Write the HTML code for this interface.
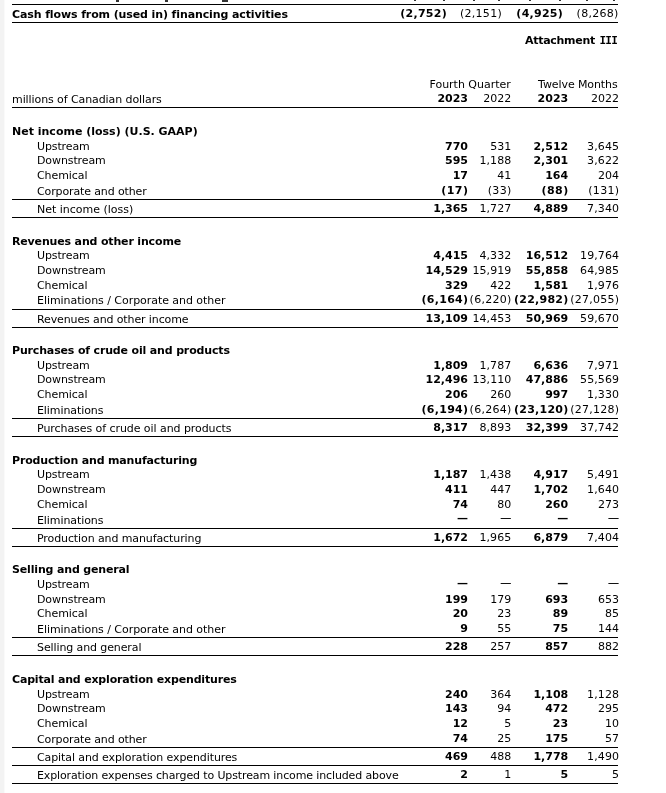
<!DOCTYPE html>
<html lang="en"><head><meta charset="utf-8"><title>Attachment III</title>
<style>
html,body{margin:0;padding:0;background:#fff;}
body{width:666px;height:793px;position:relative;overflow:hidden;
font-family:"DejaVu Sans","Liberation Sans",sans-serif;font-size:11px;color:#000;}
.strip{position:absolute;left:0;top:0;width:4px;height:793px;background:#f3f3f3;border-right:1px solid #fafafa}
.t{position:absolute;white-space:nowrap;line-height:14px;height:14px;}
.b{font-weight:bold}
.ln{position:absolute;background:#000}
.mk{position:absolute;top:0;background:#333}
</style></head><body>
<div class="strip"></div>
<div class="mk" style="left:115.5px;width:3px;height:1.5px"></div>
<div class="mk" style="left:164.5px;width:3px;height:1.5px"></div>
<div class="mk" style="left:222px;width:6px;height:1.5px"></div>
<div class="mk" style="left:414px;width:2px;height:1px"></div>
<div class="mk" style="left:442.5px;width:2.5px;height:1px"></div>
<div class="mk" style="left:473px;width:1.5px;height:1px"></div>
<div class="mk" style="left:497.5px;width:2px;height:1px"></div>
<div class="mk" style="left:529px;width:2px;height:1px"></div>
<div class="mk" style="left:558.5px;width:2.5px;height:1px"></div>
<div class="mk" style="left:586px;width:1.5px;height:1px"></div>
<div class="mk" style="left:613px;width:2px;height:1px"></div>
<div class="ln" style="top:4px;left:12px;width:606px;height:1px"></div>
<div class="t b" style="top:8px;left:12px;letter-spacing:-0.109px;">Cash flows from (used in) financing activities</div>
<div class="t b" style="top:7px;right:219.04px;letter-spacing:0.264px;">(2,752)</div>
<div class="t r" style="top:7px;right:164.03px;letter-spacing:0.272px;">(2,151)</div>
<div class="t b" style="top:7px;right:102.94px;letter-spacing:0.264px;">(4,925)</div>
<div class="t r" style="top:7px;right:47.43px;letter-spacing:0.272px;">(8,268)</div>
<div class="ln" style="top:22px;left:12px;width:606px;height:1px"></div>
<div class="t b" style="top:34px;right:71.10px;letter-spacing:-0.300px;">Attachment</div>
<div class="t b" style="top:34px;left:599.5px;font-family:'DejaVu Sans Mono','Liberation Mono',monospace;letter-spacing:-0.75px">III</div>
<div class="t r" style="top:78px;right:155.32px;letter-spacing:-0.020px;">Fourth Quarter</div>
<div class="t r" style="top:78px;right:48.39px;letter-spacing:-0.092px;">Twelve Months</div>
<div class="t r" style="top:93px;left:12px;letter-spacing:-0.086px;">millions of Canadian dollars</div>
<div class="t b" style="top:92px;right:198.00px;">2023</div>
<div class="t r" style="top:92px;right:154.70px;">2022</div>
<div class="t b" style="top:92px;right:97.80px;">2023</div>
<div class="t r" style="top:92px;right:47.00px;">2022</div>
<div class="ln" style="top:107px;left:12px;width:606px;height:1px"></div>
<div class="t b" style="top:125px;left:12px;">Net income (loss) (U.S. GAAP)</div>
<div class="t r" style="top:140px;left:37px;letter-spacing:-0.125px;">Upstream</div>
<div class="t b" style="top:140px;right:197.96px;letter-spacing:0.044px;">770</div>
<div class="t r" style="top:140px;right:154.70px;">531</div>
<div class="t b" style="top:140px;right:97.81px;letter-spacing:-0.006px;">2,512</div>
<div class="t r" style="top:140px;right:46.90px;letter-spacing:0.100px;">3,645</div>
<div class="t r" style="top:154px;left:37px;letter-spacing:-0.100px;">Downstream</div>
<div class="t b" style="top:154px;right:197.96px;letter-spacing:0.044px;">595</div>
<div class="t r" style="top:154px;right:154.60px;letter-spacing:0.100px;">1,188</div>
<div class="t b" style="top:154px;right:97.81px;letter-spacing:-0.006px;">2,301</div>
<div class="t r" style="top:154px;right:46.90px;letter-spacing:0.100px;">3,622</div>
<div class="t r" style="top:169px;left:37px;letter-spacing:-0.075px;">Chemical</div>
<div class="t b" style="top:169px;right:197.96px;letter-spacing:0.044px;">17</div>
<div class="t r" style="top:169px;right:154.70px;">41</div>
<div class="t b" style="top:169px;right:97.76px;letter-spacing:0.044px;">164</div>
<div class="t r" style="top:169px;right:47.00px;">204</div>
<div class="t r" style="top:185px;left:37px;letter-spacing:-0.126px;">Corporate and other</div>
<div class="t b" style="top:184px;right:197.51px;letter-spacing:0.491px;">(17)</div>
<div class="t r" style="top:184px;right:154.35px;letter-spacing:0.352px;">(33)</div>
<div class="t b" style="top:184px;right:97.31px;letter-spacing:0.491px;">(88)</div>
<div class="t r" style="top:184px;right:46.72px;letter-spacing:0.281px;">(131)</div>
<div class="ln" style="top:199px;left:12px;width:606px;height:1px"></div>
<div class="t r" style="top:203px;left:37px;letter-spacing:-0.012px;">Net income (loss)</div>
<div class="t b" style="top:202px;right:198.01px;letter-spacing:-0.006px;">1,365</div>
<div class="t r" style="top:202px;right:154.60px;letter-spacing:0.100px;">1,727</div>
<div class="t b" style="top:202px;right:97.81px;letter-spacing:-0.006px;">4,889</div>
<div class="t r" style="top:202px;right:46.90px;letter-spacing:0.100px;">7,340</div>
<div class="ln" style="top:217px;left:12px;width:606px;height:1px"></div>
<div class="t b" style="top:235px;left:12px;letter-spacing:-0.160px;">Revenues and other income</div>
<div class="t r" style="top:249px;left:37px;letter-spacing:-0.125px;">Upstream</div>
<div class="t b" style="top:249px;right:198.01px;letter-spacing:-0.006px;">4,415</div>
<div class="t r" style="top:249px;right:154.60px;letter-spacing:0.100px;">4,332</div>
<div class="t b" style="top:249px;right:97.80px;letter-spacing:0.002px;">16,512</div>
<div class="t r" style="top:249px;right:46.92px;letter-spacing:0.083px;">19,764</div>
<div class="t r" style="top:264px;left:37px;letter-spacing:-0.100px;">Downstream</div>
<div class="t b" style="top:264px;right:198.00px;letter-spacing:0.002px;">14,529</div>
<div class="t r" style="top:264px;right:154.62px;letter-spacing:0.083px;">15,919</div>
<div class="t b" style="top:264px;right:97.80px;letter-spacing:0.002px;">55,858</div>
<div class="t r" style="top:264px;right:46.92px;letter-spacing:0.083px;">64,985</div>
<div class="t r" style="top:279px;left:37px;letter-spacing:-0.075px;">Chemical</div>
<div class="t b" style="top:279px;right:197.96px;letter-spacing:0.044px;">329</div>
<div class="t r" style="top:279px;right:154.70px;">422</div>
<div class="t b" style="top:279px;right:97.81px;letter-spacing:-0.006px;">1,581</div>
<div class="t r" style="top:279px;right:46.90px;letter-spacing:0.100px;">1,976</div>
<div class="t r" style="top:294px;left:37px;letter-spacing:-0.047px;">Eliminations / Corporate and other</div>
<div class="t b" style="top:293px;right:197.74px;letter-spacing:0.264px;">(6,164)</div>
<div class="t r" style="top:293px;right:154.43px;letter-spacing:0.272px;">(6,220)</div>
<div class="t b" style="top:293px;right:97.56px;letter-spacing:0.236px;">(22,982)</div>
<div class="t r" style="top:293px;right:46.76px;letter-spacing:0.238px;">(27,055)</div>
<div class="ln" style="top:309px;left:12px;width:606px;height:1px"></div>
<div class="t r" style="top:313px;left:37px;letter-spacing:-0.120px;">Revenues and other income</div>
<div class="t b" style="top:312px;right:198.00px;letter-spacing:0.002px;">13,109</div>
<div class="t r" style="top:312px;right:154.62px;letter-spacing:0.083px;">14,453</div>
<div class="t b" style="top:312px;right:97.80px;letter-spacing:0.002px;">50,969</div>
<div class="t r" style="top:312px;right:46.92px;letter-spacing:0.083px;">59,670</div>
<div class="ln" style="top:327px;left:12px;width:606px;height:1px"></div>
<div class="t b" style="top:344px;left:12px;letter-spacing:-0.160px;">Purchases of crude oil and products</div>
<div class="t r" style="top:359px;left:37px;letter-spacing:-0.125px;">Upstream</div>
<div class="t b" style="top:359px;right:198.01px;letter-spacing:-0.006px;">1,809</div>
<div class="t r" style="top:359px;right:154.60px;letter-spacing:0.100px;">1,787</div>
<div class="t b" style="top:359px;right:97.81px;letter-spacing:-0.006px;">6,636</div>
<div class="t r" style="top:359px;right:46.90px;letter-spacing:0.100px;">7,971</div>
<div class="t r" style="top:373px;left:37px;letter-spacing:-0.100px;">Downstream</div>
<div class="t b" style="top:373px;right:198.00px;letter-spacing:0.002px;">12,496</div>
<div class="t r" style="top:373px;right:154.62px;letter-spacing:0.083px;">13,110</div>
<div class="t b" style="top:373px;right:97.80px;letter-spacing:0.002px;">47,886</div>
<div class="t r" style="top:373px;right:46.92px;letter-spacing:0.083px;">55,569</div>
<div class="t r" style="top:388px;left:37px;letter-spacing:-0.075px;">Chemical</div>
<div class="t b" style="top:388px;right:197.96px;letter-spacing:0.044px;">206</div>
<div class="t r" style="top:388px;right:154.70px;">260</div>
<div class="t b" style="top:388px;right:97.76px;letter-spacing:0.044px;">997</div>
<div class="t r" style="top:388px;right:46.90px;letter-spacing:0.100px;">1,330</div>
<div class="t r" style="top:404px;left:37px;letter-spacing:-0.083px;">Eliminations</div>
<div class="t b" style="top:403px;right:197.74px;letter-spacing:0.264px;">(6,194)</div>
<div class="t r" style="top:403px;right:154.43px;letter-spacing:0.272px;">(6,264)</div>
<div class="t b" style="top:403px;right:97.56px;letter-spacing:0.236px;">(23,120)</div>
<div class="t r" style="top:403px;right:46.76px;letter-spacing:0.238px;">(27,128)</div>
<div class="ln" style="top:418px;left:12px;width:606px;height:1px"></div>
<div class="t r" style="top:422px;left:37px;letter-spacing:-0.063px;">Purchases of crude oil and products</div>
<div class="t b" style="top:421px;right:198.01px;letter-spacing:-0.006px;">8,317</div>
<div class="t r" style="top:421px;right:154.60px;letter-spacing:0.100px;">8,893</div>
<div class="t b" style="top:421px;right:97.80px;letter-spacing:0.002px;">32,399</div>
<div class="t r" style="top:421px;right:46.92px;letter-spacing:0.083px;">37,742</div>
<div class="ln" style="top:436px;left:12px;width:606px;height:1px"></div>
<div class="t b" style="top:454px;left:12px;letter-spacing:-0.164px;">Production and manufacturing</div>
<div class="t r" style="top:468px;left:37px;letter-spacing:-0.125px;">Upstream</div>
<div class="t b" style="top:468px;right:198.01px;letter-spacing:-0.006px;">1,187</div>
<div class="t r" style="top:468px;right:154.60px;letter-spacing:0.100px;">1,438</div>
<div class="t b" style="top:468px;right:97.81px;letter-spacing:-0.006px;">4,917</div>
<div class="t r" style="top:468px;right:46.90px;letter-spacing:0.100px;">5,491</div>
<div class="t r" style="top:483px;left:37px;letter-spacing:-0.100px;">Downstream</div>
<div class="t b" style="top:483px;right:197.96px;letter-spacing:0.044px;">411</div>
<div class="t r" style="top:483px;right:154.70px;">447</div>
<div class="t b" style="top:483px;right:97.81px;letter-spacing:-0.006px;">1,702</div>
<div class="t r" style="top:483px;right:46.90px;letter-spacing:0.100px;">1,640</div>
<div class="t r" style="top:498px;left:37px;letter-spacing:-0.075px;">Chemical</div>
<div class="t b" style="top:498px;right:197.96px;letter-spacing:0.044px;">74</div>
<div class="t r" style="top:498px;right:154.70px;">80</div>
<div class="t b" style="top:498px;right:97.76px;letter-spacing:0.044px;">260</div>
<div class="t r" style="top:498px;right:47.00px;">273</div>
<div class="t r" style="top:514px;left:37px;letter-spacing:-0.083px;">Eliminations</div>
<div class="t b" style="top:512px;right:198.00px;">—</div>
<div class="t r" style="top:511.25px;right:154.70px;text-shadow:0 0 0 #000;">—</div>
<div class="t b" style="top:512px;right:97.80px;">—</div>
<div class="t r" style="top:511.25px;right:47.00px;text-shadow:0 0 0 #000;">—</div>
<div class="ln" style="top:528px;left:12px;width:606px;height:1px"></div>
<div class="t r" style="top:532px;left:37px;letter-spacing:-0.100px;">Production and manufacturing</div>
<div class="t b" style="top:531px;right:198.01px;letter-spacing:-0.006px;">1,672</div>
<div class="t r" style="top:531px;right:154.60px;letter-spacing:0.100px;">1,965</div>
<div class="t b" style="top:531px;right:97.81px;letter-spacing:-0.006px;">6,879</div>
<div class="t r" style="top:531px;right:46.90px;letter-spacing:0.100px;">7,404</div>
<div class="ln" style="top:546px;left:12px;width:606px;height:1px"></div>
<div class="t b" style="top:563px;left:12px;letter-spacing:-0.158px;">Selling and general</div>
<div class="t r" style="top:578px;left:37px;letter-spacing:-0.125px;">Upstream</div>
<div class="t b" style="top:577px;right:198.00px;">—</div>
<div class="t r" style="top:576.25px;right:154.70px;text-shadow:0 0 0 #000;">—</div>
<div class="t b" style="top:577px;right:97.80px;">—</div>
<div class="t r" style="top:576.25px;right:47.00px;text-shadow:0 0 0 #000;">—</div>
<div class="t r" style="top:593px;left:37px;letter-spacing:-0.100px;">Downstream</div>
<div class="t b" style="top:593px;right:197.96px;letter-spacing:0.044px;">199</div>
<div class="t r" style="top:593px;right:154.70px;">179</div>
<div class="t b" style="top:593px;right:97.76px;letter-spacing:0.044px;">693</div>
<div class="t r" style="top:593px;right:47.00px;">653</div>
<div class="t r" style="top:607px;left:37px;letter-spacing:-0.075px;">Chemical</div>
<div class="t b" style="top:607px;right:197.96px;letter-spacing:0.044px;">20</div>
<div class="t r" style="top:607px;right:154.70px;">23</div>
<div class="t b" style="top:607px;right:97.76px;letter-spacing:0.044px;">89</div>
<div class="t r" style="top:607px;right:47.00px;">85</div>
<div class="t r" style="top:623px;left:37px;letter-spacing:-0.047px;">Eliminations / Corporate and other</div>
<div class="t b" style="top:622px;right:197.96px;letter-spacing:0.044px;">9</div>
<div class="t r" style="top:622px;right:154.70px;">55</div>
<div class="t b" style="top:622px;right:97.76px;letter-spacing:0.044px;">75</div>
<div class="t r" style="top:622px;right:47.00px;">144</div>
<div class="ln" style="top:637px;left:12px;width:606px;height:1px"></div>
<div class="t r" style="top:641px;left:37px;letter-spacing:-0.105px;">Selling and general</div>
<div class="t b" style="top:640px;right:197.96px;letter-spacing:0.044px;">228</div>
<div class="t r" style="top:640px;right:154.70px;">257</div>
<div class="t b" style="top:640px;right:97.76px;letter-spacing:0.044px;">857</div>
<div class="t r" style="top:640px;right:47.00px;">882</div>
<div class="ln" style="top:655px;left:12px;width:606px;height:1px"></div>
<div class="t b" style="top:673px;left:12px;letter-spacing:-0.183px;">Capital and exploration expenditures</div>
<div class="t r" style="top:688px;left:37px;letter-spacing:-0.125px;">Upstream</div>
<div class="t b" style="top:688px;right:197.96px;letter-spacing:0.044px;">240</div>
<div class="t r" style="top:688px;right:154.70px;">364</div>
<div class="t b" style="top:688px;right:97.81px;letter-spacing:-0.006px;">1,108</div>
<div class="t r" style="top:688px;right:46.90px;letter-spacing:0.100px;">1,128</div>
<div class="t r" style="top:702px;left:37px;letter-spacing:-0.100px;">Downstream</div>
<div class="t b" style="top:702px;right:197.96px;letter-spacing:0.044px;">143</div>
<div class="t r" style="top:702px;right:154.70px;">94</div>
<div class="t b" style="top:702px;right:97.76px;letter-spacing:0.044px;">472</div>
<div class="t r" style="top:702px;right:47.00px;">295</div>
<div class="t r" style="top:717px;left:37px;letter-spacing:-0.075px;">Chemical</div>
<div class="t b" style="top:717px;right:197.96px;letter-spacing:0.044px;">12</div>
<div class="t r" style="top:717px;right:154.70px;">5</div>
<div class="t b" style="top:717px;right:97.76px;letter-spacing:0.044px;">23</div>
<div class="t r" style="top:717px;right:47.00px;">10</div>
<div class="t r" style="top:733px;left:37px;letter-spacing:-0.126px;">Corporate and other</div>
<div class="t b" style="top:732px;right:197.96px;letter-spacing:0.044px;">74</div>
<div class="t r" style="top:732px;right:154.70px;">25</div>
<div class="t b" style="top:732px;right:97.76px;letter-spacing:0.044px;">175</div>
<div class="t r" style="top:732px;right:47.00px;">57</div>
<div class="ln" style="top:747px;left:12px;width:606px;height:1px"></div>
<div class="t r" style="top:751px;left:37px;letter-spacing:-0.100px;">Capital and exploration expenditures</div>
<div class="t b" style="top:750px;right:197.96px;letter-spacing:0.044px;">469</div>
<div class="t r" style="top:750px;right:154.70px;">488</div>
<div class="t b" style="top:750px;right:97.81px;letter-spacing:-0.006px;">1,778</div>
<div class="t r" style="top:750px;right:46.90px;letter-spacing:0.100px;">1,490</div>
<div class="ln" style="top:765px;left:12px;width:606px;height:1px"></div>
<div class="t r" style="top:769px;left:37px;letter-spacing:-0.126px;">Exploration expenses charged to Upstream income included above</div>
<div class="t b" style="top:768px;right:197.96px;letter-spacing:0.044px;">2</div>
<div class="t r" style="top:768px;right:154.70px;">1</div>
<div class="t b" style="top:768px;right:97.76px;letter-spacing:0.044px;">5</div>
<div class="t r" style="top:768px;right:47.00px;">5</div>
<div class="ln" style="top:783px;left:12px;width:606px;height:1px"></div>
</body></html>
